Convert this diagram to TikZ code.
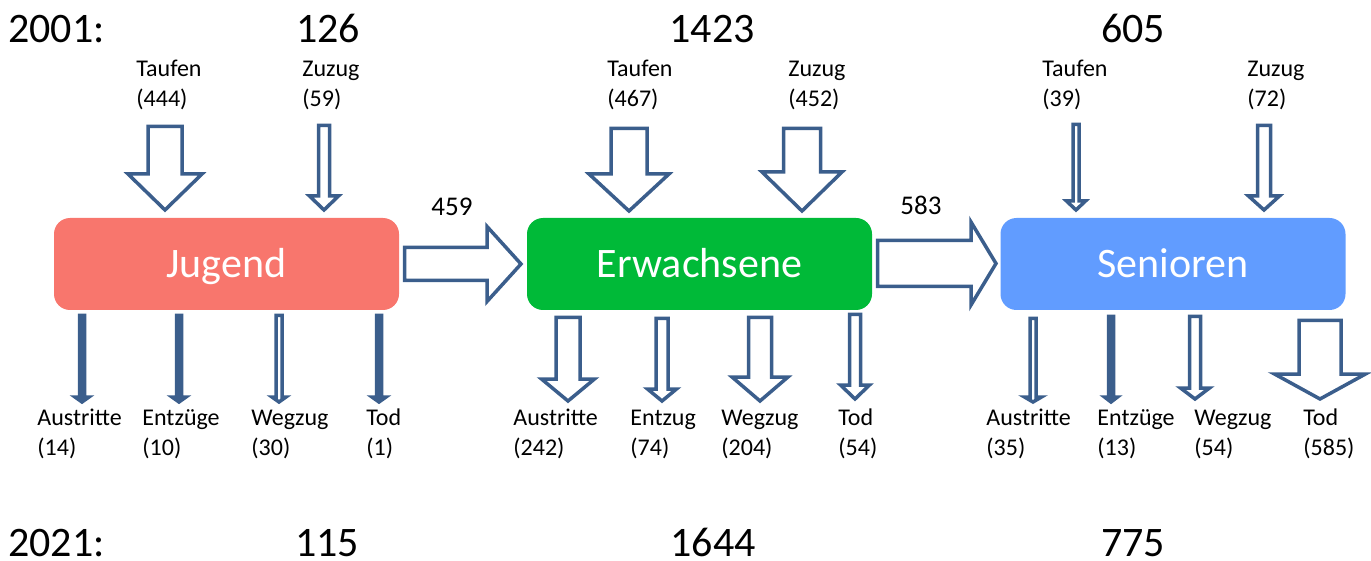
\documentclass[tikz,border=0pt]{standalone}
\usepackage{fontspec}
\setmainfont{Carlito}
\definecolor{jugendfill}{HTML}{F8766D}
\definecolor{erwfill}{HTML}{00BA38}
\definecolor{senfill}{HTML}{619CFF}
\definecolor{pfeilblau}{HTML}{3B5E8C}
\tikzstyle{gruppe}=[rounded corners=8pt,minimum width=172.5pt,minimum height=46pt,inner sep=0pt,
  text=white,font=\fontsize{21}{25}\selectfont,text height=13.5pt,text depth=0pt]
\tikzstyle{flow}=[draw=pfeilblau,line width=1.75pt,fill=white]
\tikzstyle{flowsolid}=[draw=pfeilblau,line width=1.75pt,fill=pfeilblau]
\tikzstyle{bestand}=[font=\fontsize{21}{25}\selectfont,anchor=base,inner sep=0pt]
\tikzstyle{jahr}=[font=\fontsize{21}{25}\selectfont,anchor=base west,inner sep=0pt]
\tikzstyle{posten}=[font=\fontsize{12}{15}\selectfont,align=left,anchor=base west,inner sep=0pt]
\tikzstyle{wechsel}=[font=\fontsize{13.5}{16}\selectfont,anchor=base,inner sep=0pt]
% block arrow pointing down: [style]{x}{top}{head base}{tip}{shaft half}{head half}
\newcommand{\flowdown}[7][flow]{%
  \draw[#1] ({#2-#6},#3) -- ({#2+#6},#3) -- ({#2+#6},#4) -- ({#2+#7},#4)
    -- (#2,#5) -- ({#2-#7},#4) -- ({#2-#6},#4) -- cycle;}
% block arrow pointing right: {y}{left}{head base}{tip}{shaft half}{head half}
\newcommand{\flowright}[6]{%
  \draw[flow] (#2,{#1-#5}) -- (#2,{#1+#5}) -- (#3,{#1+#5}) -- (#3,{#1+#6})
    -- (#4,#1) -- (#3,{#1-#6}) -- (#3,{#1-#5}) -- cycle;}
\begin{document}
\begin{tikzpicture}[x=0.5pt,y=-0.5pt]
  \useasboundingbox (0,0) rectangle (1371,561);

  \node[gruppe,fill=jugendfill] (jugend) at (226.5,264) {Jugend};
  \node[gruppe,fill=erwfill] (erwachsene) at (699.5,264) {Erwachsene};
  \node[gruppe,fill=senfill] (senioren) at (1173,264) {Senioren};

  \node[jahr] (j2001) at (8,43) {2001:};
  \node[bestand] (bj01) at (328,43) {126};
  \node[bestand] (be01) at (712,43) {1423};
  \node[bestand] (bs01) at (1133,43) {605};
  \node[jahr] (j2021) at (8,556) {2021:};
  \node[bestand] (bj21) at (327,556) {115};
  \node[bestand] (be21) at (713,556) {1644};
  \node[bestand] (bs21) at (1133,556) {775};

  \node[posten] (jtaufen) at (136,107) {Taufen\\(444)};
  \node[posten] (jzuzug) at (302,107) {Zuzug\\(59)};
  \node[posten] (etaufen) at (607,107) {Taufen\\(467)};
  \node[posten] (ezuzug) at (788,107) {Zuzug\\(452)};
  \node[posten] (staufen) at (1042,107) {Taufen\\(39)};
  \node[posten] (szuzug) at (1247,107) {Zuzug\\(72)};

  \node[posten] (jaus) at (37,455) {Austritte\\(14)};
  \node[posten] (jent) at (142,455) {Entzüge\\(10)};
  \node[posten] (jweg) at (251,455) {Wegzug\\(30)};
  \node[posten] (jtod) at (366,455) {Tod\\(1)};
  \node[posten] (eaus) at (513,455) {Austritte\\(242)};
  \node[posten] (eent) at (630,455) {Entzug\\(74)};
  \node[posten] (eweg) at (721,455) {Wegzug\\(204)};
  \node[posten] (etod) at (838,455) {Tod\\(54)};
  \node[posten] (saus) at (986,455) {Austritte\\(35)};
  \node[posten] (sent) at (1097,455) {Entzüge\\(13)};
  \node[posten] (sweg) at (1194,455) {Wegzug\\(54)};
  \node[posten] (stod) at (1303,455) {Tod\\(585)};

  \node[wechsel] (je) at (452,216) {459};
  \node[wechsel] (es) at (921,215) {583};

  % zugaenge
  \flowdown{165}{126.5}{174}{210}{17}{37}
  \flowdown{324}{125.5}{196}{210}{5.5}{14.5}
  \flowdown{629}{128.5}{174}{211}{18}{40}
  \flowdown{802}{128.5}{172}{211}{18.5}{40}
  \flowdown{1076}{124.5}{201}{210}{3}{9.5}
  \flowdown{1264}{125.5}{196}{210}{6.5}{15.5}

  % uebergaenge
  \flowright{264}{404.5}{487}{521}{16.5}{37.5}
  \flowright{263.5}{877.5}{971}{996}{23}{41.5}

  % abgaenge
  \flowdown[flowsolid]{82}{315.5}{397}{402}{2.5}{7}
  \flowdown[flowsolid]{179}{315.5}{397}{402}{2.5}{7}
  \flowdown{279}{315.5}{397}{402}{3}{7}
  \flowdown[flowsolid]{379}{315.5}{397}{402}{2.5}{7}
  \flowdown{568}{317.5}{379}{401}{12}{26.5}
  \flowdown{662}{318.5}{389}{401}{6}{14.5}
  \flowdown{760}{317.5}{377}{401}{11.5}{28}
  \flowdown{855}{314.5}{385}{399}{5.5}{14.5}
  \flowdown{1033}{318.5}{397}{402}{3}{8.5}
  \flowdown[flowsolid]{1111}{316.5}{397}{402}{2.5}{6.5}
  \flowdown{1195}{316.5}{388}{399}{5.5}{14.5}
  \flowdown{1320}{320.5}{374}{399}{21}{45.5}
\end{tikzpicture}
\end{document}
